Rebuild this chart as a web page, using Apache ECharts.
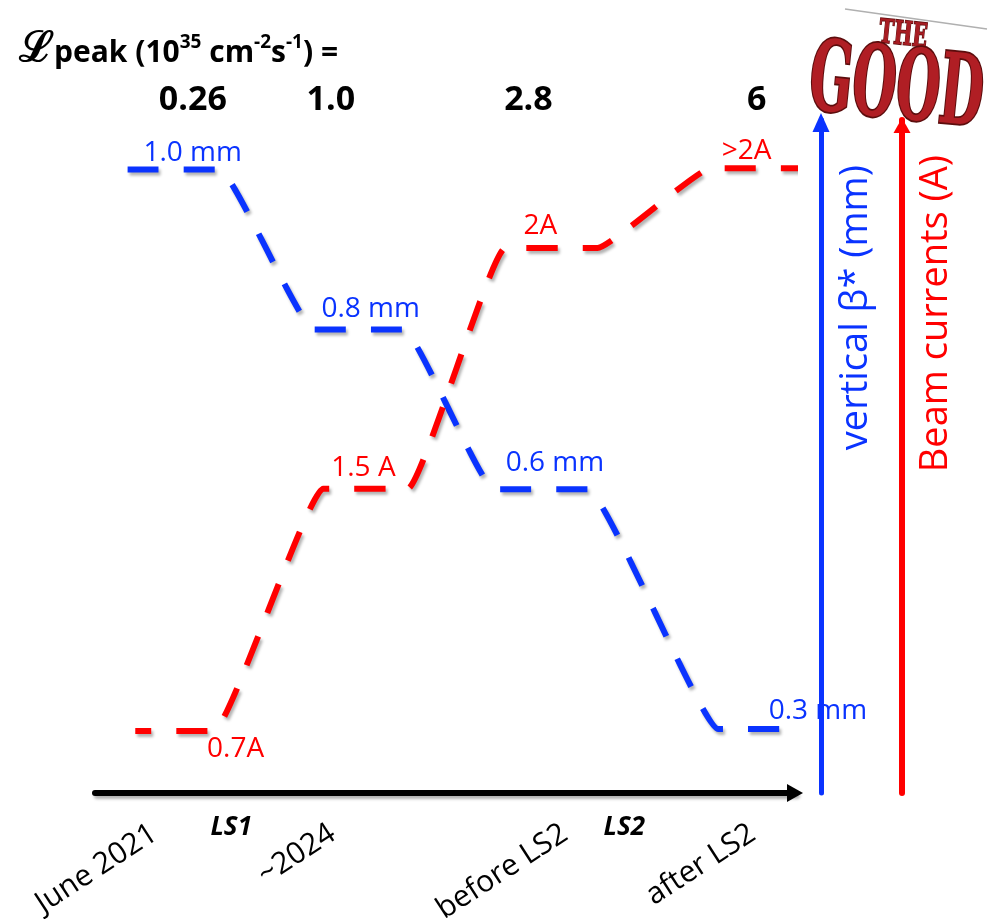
<!DOCTYPE html>
<html>
<head>
<meta charset="utf-8">
<script src="https://cdn.jsdelivr.net/npm/echarts@6/dist/echarts.min.js"></script>
<style>
  html, body { margin: 0; padding: 0; background: #fff; }
  #chart { width: 989px; height: 919px; }
</style>
</head>
<body>
<div id="chart"></div>
<script>
// timeline phases (x axis): 0 = June 2021 ... 3 = after LS2
const timeLabels = ['June 2021', '~2024', 'before LS2', 'after LS2'];
const timeAt = [-0.09, 0.84, 2.05, 3.03];
const lumiPeak = ['0.26', '1.0', '2.8', '6'];
const lumiAt = [0.11, 0.83, 1.86, 3.05];
const shutdowns = ['LS1', 'LS2'];
const shutdownAt = [0.31, 2.36];

// vertical beta* (mm), start/end of each plateau
const betaAt = [-0.23, 0.25, 0.74, 1.21, 1.68, 2.17, 2.85, 3.19];
const betaStar = [1.0, 1.0, 0.8, 0.8, 0.6, 0.6, 0.3, 0.3];
const betaText = ['1.0 mm', '0.8 mm', '0.6 mm', '0.3 mm'];

// beam currents (A)
const currentAt = [-0.19, 0.22, 0.79, 1.23, 1.74, 2.22, 2.81, 3.29];
const beamCurrent = [0.7, 0.7, 1.5, 1.5, 2.0, 2.0, 2.14, 2.14];
const currentText = ['0.7A', '1.5 A', '2A', '>2A'];

const BLUE = '#0a33ff', RED = '#ff0000';
const FONT = "'Open Sans', 'DejaVu Sans', sans-serif";

// label nudges (px) relative to plateau middle
const betaOffsets = [[19, -17], [12, -20], [14, -26], [67, -18]];
const currentOffsets = [[61, 18], [-2, -21], [-11, -22], [-10, -17]];

// the sketch spaces current levels like I^2, so the red axis is drawn in A^2
const sq = v => v * v;

const blueData = betaAt.map((x, i) => [x, betaStar[i]]);
const redData = currentAt.map((x, i) => [x, sq(beamCurrent[i])]);
const blueLabels = betaText.map((t, k) => ({
  value: [(betaAt[2 * k] + betaAt[2 * k + 1]) / 2, betaStar[2 * k]],
  label: { formatter: t, offset: betaOffsets[k] }
}));
const redLabels = currentText.map((t, k) => ({
  value: [(currentAt[2 * k] + currentAt[2 * k + 1]) / 2, sq(beamCurrent[2 * k])],
  label: { formatter: t, offset: currentOffsets[k] }
}));

const shadow = { shadowColor: 'rgba(0,0,0,0.3)', shadowBlur: 3, shadowOffsetX: 2, shadowOffsetY: 3 };
const pick = (names, at) => v => { const i = at.indexOf(v); return i < 0 ? '' : names[i]; };

const chart = echarts.init(document.getElementById('chart'));
chart.setOption({
  backgroundColor: '#fff',
  animation: false,
  title: {
    left: 14, top: 18,
    text: '{L|ℒ}{b|peak (10}{sup|35}{b| cm}{sup|-2}{b|s}{sup|-1}{b|) =}',
    textStyle: {
      rich: {
        L: { fontSize: 42, fontFamily: "'DejaVu Serif', serif", color: '#000', lineHeight: 54, verticalAlign: 'middle' },
        b: { fontSize: 30, fontWeight: 'bold', fontFamily: FONT, color: '#000', lineHeight: 32, verticalAlign: 'middle', padding: [6, 0, 0, 0] },
        sup: { fontSize: 19, fontWeight: 'bold', fontFamily: FONT, color: '#000', lineHeight: 19, verticalAlign: 'top', padding: [10, 0, 0, 0] }
      }
    }
  },
  grid: { left: 95, right: 194, top: 120, bottom: 126, containLabel: false, outerBoundsMode: 'none' },
  xAxis: [
    {
      type: 'value', min: -0.4, max: 3.25, position: 'bottom',
      axisLine: {
        show: true, onZero: false, symbol: ['none', 'triangle'], symbolSize: [18, 16],
        lineStyle: Object.assign({ color: '#000', width: 6 }, shadow)
      },
      axisTick: { show: false }, splitLine: { show: false },
      axisLabel: {
        customValues: timeAt, formatter: pick(timeLabels, timeAt),
        rotate: 33, margin: 38, fontSize: 30, fontFamily: FONT, color: '#000'
      }
    },
    {
      type: 'value', min: -0.4, max: 3.25, position: 'top',
      axisLine: { show: false }, axisTick: { show: false }, splitLine: { show: false },
      axisLabel: {
        customValues: lumiAt, formatter: pick(lumiPeak, lumiAt),
        margin: 3, fontSize: 34, fontWeight: 'bold', fontFamily: FONT, color: '#000'
      }
    },
    {
      type: 'value', min: -0.4, max: 3.25, position: 'bottom',
      axisLine: { show: false }, axisTick: { show: false }, splitLine: { show: false },
      axisLabel: {
        customValues: shutdownAt, formatter: pick(shutdowns, shutdownAt),
        margin: 22, fontSize: 26, fontWeight: 'bold', fontStyle: 'italic', fontFamily: FONT,
        color: v => (v === shutdownAt[0] ? '#404040' : '#000')
      }
    }
  ],
  yAxis: [
    {
      type: 'value', position: 'right', offset: 26, min: 0.22, max: 1.062,
      axisLine: {
        show: true, onZero: false, symbol: ['none', 'triangle'], symbolSize: [17, 19], symbolOffset: [0, -2.5],
        lineStyle: { color: BLUE, width: 5 }
      },
      axisTick: { show: false }, axisLabel: { show: false }, splitLine: { show: false },
      name: 'vertical β* (mm)', nameLocation: 'end', nameGap: -45, nameRotate: 90,
      nameTextStyle: { color: BLUE, fontSize: 38, fontFamily: FONT, align: 'right', verticalAlign: 'top', padding: [16, 0, 0, 0] }
    },
    {
      type: 'value', position: 'right', offset: 107, min: 0.04, max: 4.93,
      axisLine: {
        show: true, onZero: false, symbol: ['none', 'triangle'], symbolSize: [17, 15], symbolOffset: [0, -5.5],
        lineStyle: { color: RED, width: 6 }
      },
      axisTick: { show: false }, axisLabel: { show: false }, splitLine: { show: false },
      name: 'Beam currents (A)', nameLocation: 'end', nameGap: -35, nameRotate: 90,
      nameTextStyle: { color: RED, fontSize: 38, fontFamily: FONT, align: 'right', verticalAlign: 'top', padding: [15, 0, 0, 0] }
    }
  ],
  series: [
    {
      name: 'vertical beta*', type: 'line', xAxisIndex: 0, yAxisIndex: 0,
      data: blueData, symbol: 'none', smooth: 0.1, clip: false, z: 3,
      lineStyle: Object.assign({ color: BLUE, width: 6, type: [31, 25], cap: 'butt' }, shadow)
    },
    {
      name: 'beam currents', type: 'line', xAxisIndex: 0, yAxisIndex: 1,
      data: redData, symbol: 'none', smooth: 0.1, clip: false, z: 3,
      lineStyle: Object.assign({ color: RED, width: 6, type: [31, 25], dashOffset: 15, cap: 'butt' }, shadow)
    },
    {
      type: 'scatter', xAxisIndex: 0, yAxisIndex: 0, data: blueLabels, symbolSize: 0, clip: false, silent: true, z: 4,
      itemStyle: { opacity: 1 },
      label: { show: true, position: 'inside', color: BLUE, fontSize: 28, fontFamily: FONT }
    },
    {
      type: 'scatter', xAxisIndex: 0, yAxisIndex: 1, data: redLabels, symbolSize: 0, clip: false, silent: true, z: 4,
      itemStyle: { opacity: 1 },
      label: { show: true, position: 'inside', color: RED, fontSize: 28, fontFamily: FONT }
    }
  ],
  graphic: [
    { type: 'line', shape: { x1: 845, y1: 9, x2: 987, y2: 29 }, style: { stroke: '#b0b0b0', lineWidth: 1.5 } },
    {
      type: 'text', x: 903, y: 36, rotation: -0.1, scaleY: 1.5,
      style: {
        text: 'THE', fontSize: 22, fontWeight: 'bold', fontFamily: "'DejaVu Serif Condensed', 'DejaVu Serif', serif",
        fill: '#a81c22', stroke: '#5c0d0d', lineWidth: 1,
        align: 'center', verticalAlign: 'middle', textAlign: 'center', textVerticalAlign: 'middle'
      }
    },
    {
      type: 'text', x: 896, y: 92, rotation: -0.1, scaleY: 1.75,
      style: {
        text: 'GOOD', fontSize: 56, fontWeight: 'bold', fontFamily: "'DejaVu Serif Condensed', 'DejaVu Serif', serif",
        fill: '#b01e24', stroke: '#5c0d0d', lineWidth: 2,
        align: 'center', verticalAlign: 'middle', textAlign: 'center', textVerticalAlign: 'middle'
      }
    }
  ]
});
</script>
</body>
</html>
